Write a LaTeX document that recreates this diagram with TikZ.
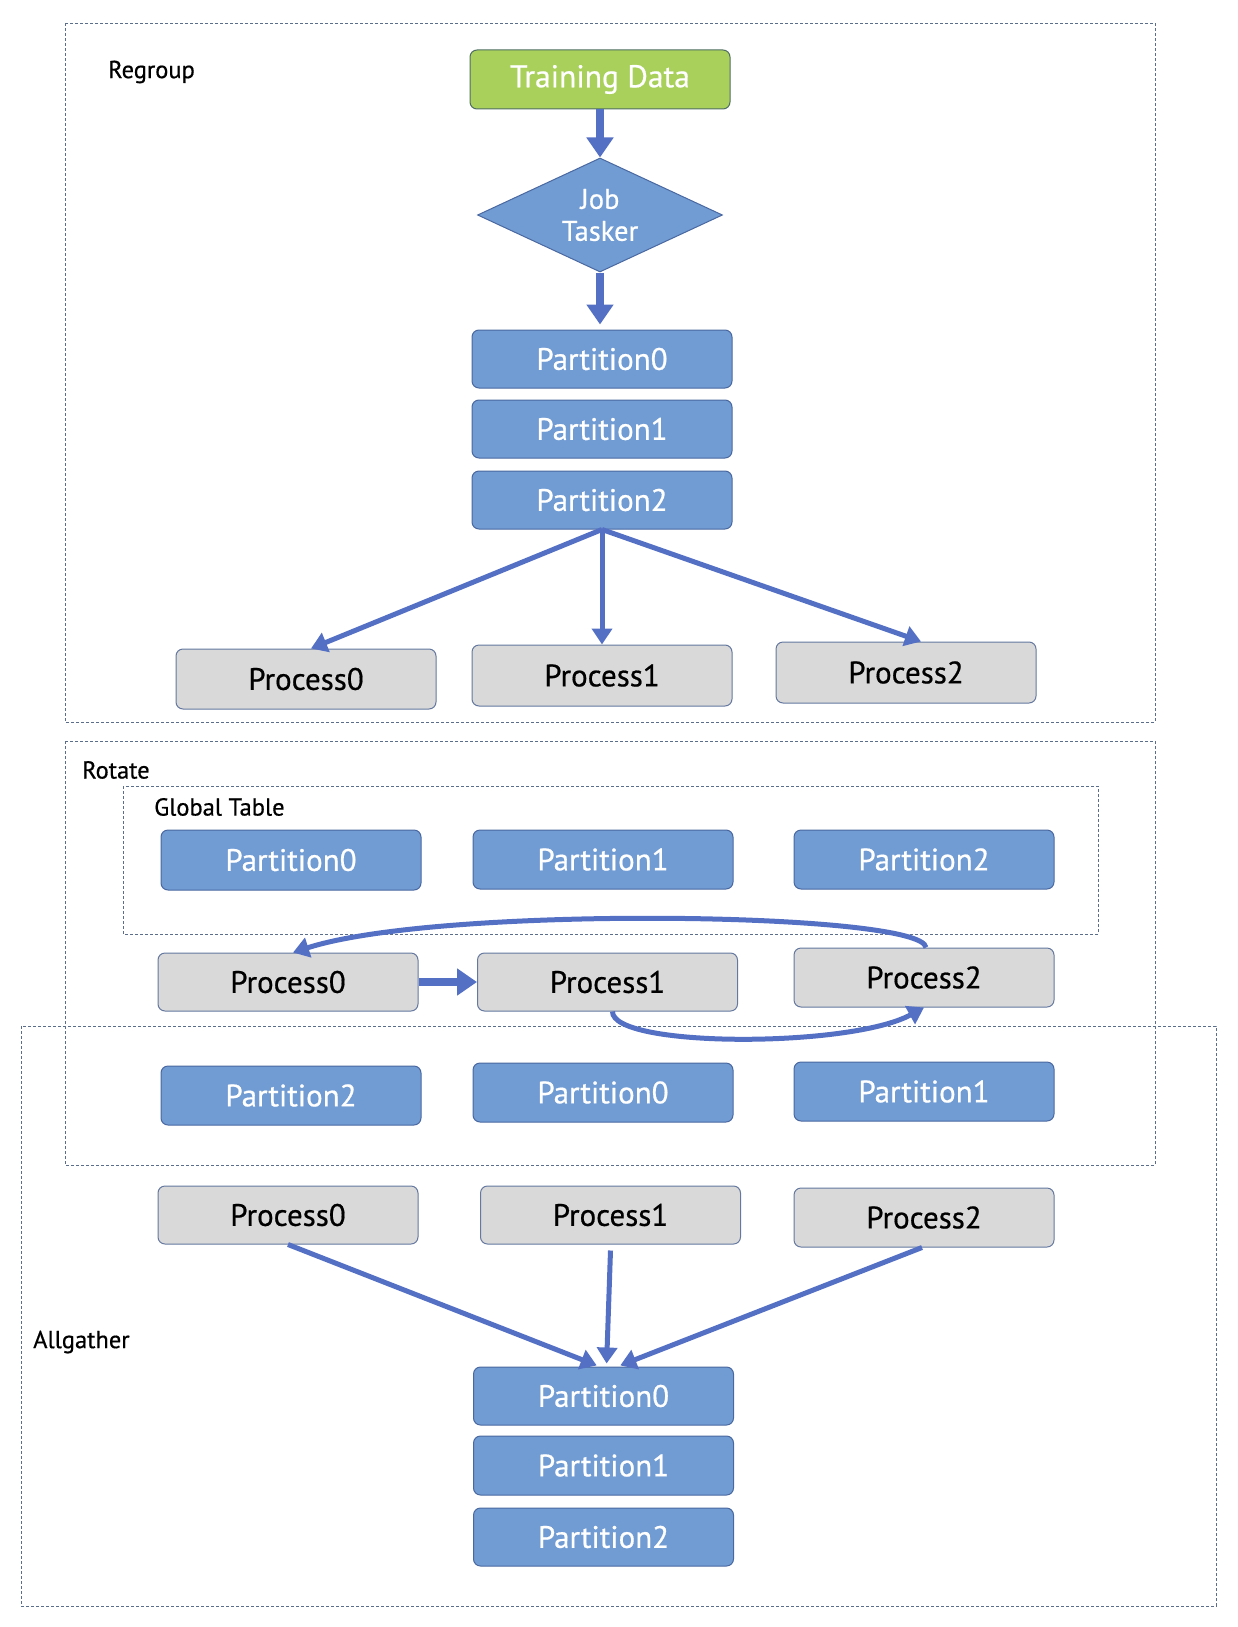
\documentclass[tikz,border=0pt]{standalone}
\usepackage{fontspec}
\setmainfont{PT Sans}
\newfontfamily\boxfont[FakeBold=0.6]{PT Sans}
\usetikzlibrary{arrows.meta,shapes.geometric}
\definecolor{bluefill}{RGB}{112,155,211}
\definecolor{blueborder}{RGB}{74,104,160}
\definecolor{grayfill}{RGB}{217,217,217}
\definecolor{grayborder}{RGB}{100,120,160}
\definecolor{arrowblue}{RGB}{84,112,196}
\definecolor{greenfill}{RGB}{168,208,90}
\definecolor{greenborder}{RGB}{80,110,100}
\definecolor{dashcol}{RGB}{90,110,140}
\tikzset{
  partbox/.style={draw=blueborder, fill=bluefill, line width=1pt, rounded corners=7pt,
    minimum width=260pt, minimum height=58pt, inner sep=0pt, text=white, font=\boxfont\fontsize{31}{34}\selectfont},
  procbox/.style={draw=grayborder, fill=grayfill, line width=1pt, rounded corners=7pt,
    minimum width=260pt, minimum height=58pt, inner sep=0pt, text=black, font=\boxfont\fontsize{31}{34}\selectfont},
  groupbox/.style={draw=dashcol, line width=0.8pt, dash pattern=on 3pt off 2pt},
  grouplabel/.style={anchor=west, inner sep=0pt, font=\boxfont\fontsize{24.5}{27}\selectfont},
  arr/.style={draw=arrowblue, line width=5pt, -{Triangle[length=16pt,width=20pt]}},
  fatarr/.style={draw=arrowblue, line width=8pt, -{Triangle[length=20pt,width=26pt]}}
}
\begin{document}
\begin{tikzpicture}[x=1pt,y=-1pt]
\useasboundingbox (0,0) rectangle (1237,1627);
% group frames
\draw[groupbox] (65,23) rectangle (1155,722);
\draw[groupbox] (65,741) rectangle (1155,1165);
\draw[groupbox] (123,786) rectangle (1098,934);
\draw[groupbox] (21,1026) rectangle (1216,1606);
\node[grouplabel] (lregroup) at (108,72) {Regroup};
\node[grouplabel] (lrotate) at (82,770) {Rotate};
\node[grouplabel] (lglobal) at (154,807) {Global Table};
\node[grouplabel] (lallg) at (33,1342) {Allgather};

% Regroup
\node[draw=greenborder, fill=greenfill, line width=1pt, rounded corners=7pt, minimum width=260pt,
  minimum height=59pt, inner sep=0pt, text=white, font=\boxfont\fontsize{31.5}{34}\selectfont] (td) at (600,79.5) {Training Data};
\node[diamond, aspect=2.15, draw=blueborder, fill=bluefill, line width=1pt, minimum width=245pt, minimum height=114pt,
  inner sep=0pt, text=white, align=center, font=\boxfont\fontsize{28.5}{32}\selectfont] (jt) at (600,215) {Job\\Tasker};
\node[partbox] (p0) at (602,359) {Partition0};
\node[partbox] (p1) at (602,429) {Partition1};
\node[partbox] (p2) at (602,500) {Partition2};
\node[procbox, minimum height=60pt] (rp0) at (306,679) {Process0};
\node[procbox, minimum height=61pt] (rp1) at (602,675.5) {Process1};
\node[procbox, minimum height=61pt] (rp2) at (906,672.5) {Process2};
\draw[fatarr] (td.south) -- (jt.north);
\draw[fatarr, shorten >=5pt] (jt.south) -- (jt.south |- p0.north);
\draw[arr] (p2.south) -- ([xshift=5pt]rp0.north);
\draw[arr] (p2.south) -- (rp1.north);
\draw[arr] (p2.south) -- ([xshift=15pt]rp2.north);

% Rotate
\node[partbox, minimum height=60pt] (gp0) at (291,860) {Partition0};
\node[partbox, minimum height=59pt] (gp1) at (603,859.5) {Partition1};
\node[partbox, minimum height=59pt] (gp2) at (924,859.5) {Partition2};
\node[procbox] (op0) at (288,982) {Process0};
\node[procbox] (op1) at (607.5,982) {Process1};
\node[procbox, minimum height=59pt] (op2) at (924,977.5) {Process2};
\node[partbox, minimum height=59pt] (np2) at (291,1095.5) {Partition2};
\node[partbox, minimum height=59pt] (np0) at (603,1092.5) {Partition0};
\node[partbox, minimum height=59pt] (np1) at (924,1091.5) {Partition1};
\draw[fatarr] (op0.east) -- (op1.west);
\draw[arr] ([xshift=2pt]op2.north) .. controls (922,912) and (440,905) .. ([xshift=5pt]op0.north);
\draw[arr] ([xshift=5pt]op1.south) .. controls (612,1048) and (850,1048) .. (op2.south);

% Allgather
\node[procbox] (ap0) at (288,1215) {Process0};
\node[procbox] (ap1) at (610.5,1215) {Process1};
\node[procbox, minimum height=59pt] (ap2) at (924,1217.5) {Process2};
\node[partbox] (aq0) at (603.5,1396) {Partition0};
\node[partbox, minimum height=59pt] (aq1) at (603.5,1465.5) {Partition1};
\node[partbox] (aq2) at (603.5,1537) {Partition2};
\draw[arr, shorten >=3pt] (ap0.south) -- ([xshift=-4pt]aq0.north);
\draw[arr, shorten >=3pt] ([yshift=-6pt]ap1.south) -- ([xshift=3pt]aq0.north);
\draw[arr, shorten >=3pt] ([xshift=-2pt]ap2.south) -- ([xshift=14pt]aq0.north);
\end{tikzpicture}
\end{document}
